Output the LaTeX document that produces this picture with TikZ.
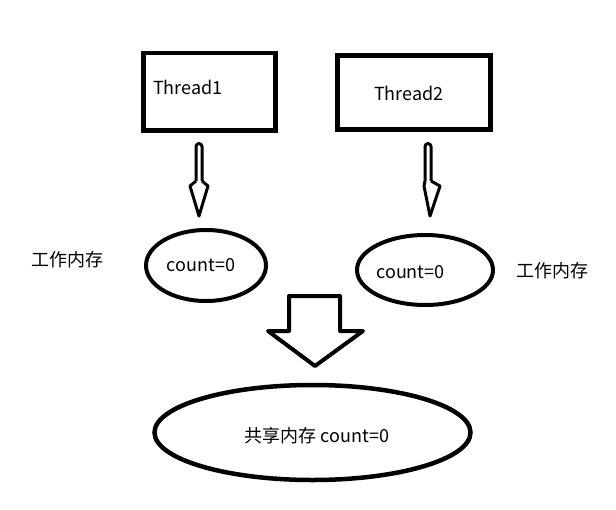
\documentclass[tikz,border=0pt]{standalone}
\usepackage{fontspec}
\setmainfont{Noto Sans CJK SC}
\begin{document}
\begin{tikzpicture}[x=1pt,y=-1pt,
  lbl/.style={inner sep=0pt,font=\fontsize{18}{18}\selectfont},
  thread/.style={draw,line width=4.5pt,inner sep=0pt},
  barrow/.style={draw,line width=3pt,line join=round,fill=white}]
\useasboundingbox[fill=white] (0,0) rectangle (616,509);
% thread boxes
\node[thread,minimum width=132pt,minimum height=77.5pt] (t1) at (209.5,91.75) {};
\node[lbl,anchor=west] (t1l) at (153,87) {Thread1};
\node[thread,minimum width=153pt,minimum height=74pt] (t2) at (414,92.5) {};
\node[lbl,anchor=west] (t2l) at (374,93) {Thread2};
% working memory ellipses
\draw[line width=4pt] (206,265.5) ellipse [x radius=60, y radius=35.5];
\node[lbl] (c1) at (201,265) {count=0};
\draw[line width=4pt] (425,270) ellipse [x radius=68, y radius=35];
\node[lbl] (c2) at (410.5,272) {count=0};
% shared memory
\draw[line width=4.5pt] (312.5,432.5) ellipse [x radius=158, y radius=47.5];
\node[lbl] (sh) at (317,436) {共享内存 count=0};
% labels
\node[lbl] (w1) at (67.5,260) {工作内存};
\node[lbl] (w2) at (552,271) {工作内存};
% narrow arrows
\draw[barrow,rounded corners=3pt] (196,184) -- (196,143.5) -- (202,143.5) -- (202,184);
\draw[barrow] (196,181) -- (190,186) -- (199,216) -- (208,186) -- (202,181);
\draw[barrow,rounded corners=3pt] (425,184) -- (425,143.5) -- (431,143.5) -- (431,184);
\draw[barrow] (425,181) -- (424,186) -- (430,216) -- (440,186) -- (431,181);
% big arrow
\draw[line width=4pt,line join=round,fill=white] (289,296) -- (340,296) -- (340,331) -- (363,331) -- (315,366) -- (268,331) -- (289,331) -- cycle;
\end{tikzpicture}
\end{document}
